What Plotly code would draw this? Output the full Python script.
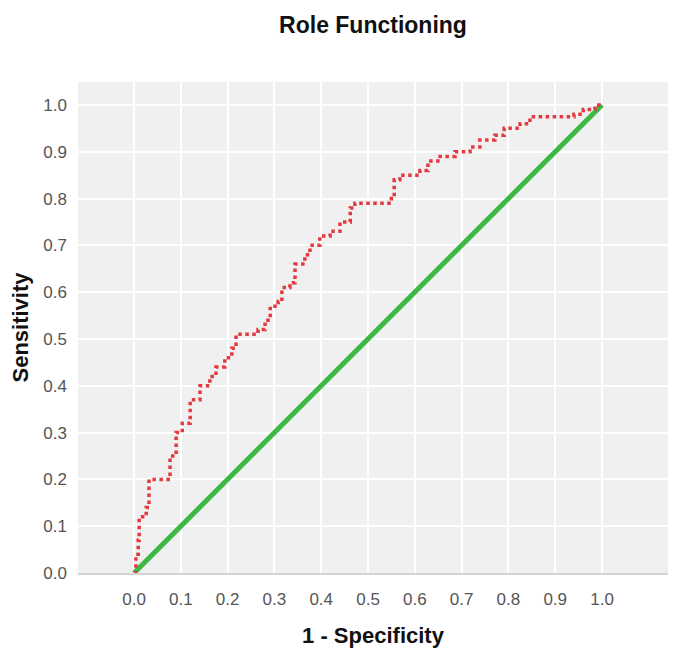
import plotly.graph_objects as go

# ROC curve points (1 - Specificity, Sensitivity)
fpr = [0.000, 0.004, 0.009, 0.011, 0.026, 0.032, 0.077, 0.090, 0.103, 0.120,
       0.141, 0.162, 0.175, 0.194, 0.209, 0.218, 0.265, 0.280, 0.291, 0.308,
       0.316, 0.333, 0.344, 0.365, 0.376, 0.397, 0.419, 0.440, 0.462, 0.472,
       0.550, 0.556, 0.568, 0.611, 0.628, 0.654, 0.686, 0.718, 0.739, 0.771,
       0.791, 0.825, 0.846, 0.940, 0.960, 0.985, 1.000]
tpr = [0.000, 0.040, 0.070, 0.120, 0.140, 0.200, 0.250, 0.300, 0.320, 0.370,
       0.400, 0.420, 0.440, 0.460, 0.480, 0.510, 0.520, 0.540, 0.570, 0.580,
       0.610, 0.620, 0.660, 0.680, 0.700, 0.720, 0.730, 0.750, 0.780, 0.790,
       0.800, 0.840, 0.850, 0.860, 0.880, 0.890, 0.900, 0.910, 0.925, 0.935,
       0.950, 0.960, 0.975, 0.980, 0.990, 1.000, 1.000]

ref_x = [0.0, 1.0]
ref_y = [0.0, 1.0]

tick_vals = [0.0, 0.1, 0.2, 0.3, 0.4, 0.5, 0.6, 0.7, 0.8, 0.9, 1.0]
tick_text = ["0.0", "0.1", "0.2", "0.3", "0.4", "0.5", "0.6", "0.7", "0.8", "0.9", "1.0"]

FONT = "Liberation Sans, Arial, sans-serif"

fig = go.Figure()
fig.add_trace(go.Scatter(
    x=ref_x, y=ref_y, mode="lines",
    line=dict(color="#3cb843", width=5),
    showlegend=False, hoverinfo="skip"))
fig.add_trace(go.Scatter(
    x=fpr, y=tpr, mode="lines", line_shape="hv",
    line=dict(color="#e23a40", width=3.5, dash="dot"),
    showlegend=False))

fig.update_layout(
    width=678, height=652,
    margin=dict(l=78, r=10, t=82, b=79, autoexpand=False),
    paper_bgcolor="white",
    plot_bgcolor="#f0f0f0",
    font=dict(family=FONT, color="#555555", size=17),
    title=dict(text="<b>Role Functioning</b>", x=0.5, xref="paper",
               y=1 - 25 / 652, yanchor="middle",
               font=dict(family=FONT, size=23, color="#111111")),
)
fig.update_xaxes(
    range=[-0.1197, 1.1410], tickvals=tick_vals, ticktext=tick_text,
    showgrid=True, gridcolor="white", gridwidth=1.5, zeroline=False,
    showline=True, linecolor="#d4d4d4", linewidth=2,
    ticks="", ticklabelstandoff=10, automargin=False,
    title=dict(text="<b>1 - Specificity</b>", standoff=19,
               font=dict(family=FONT, size=22, color="#111111")),
)
fig.update_yaxes(
    range=[0.0, 1.049], tickvals=tick_vals, ticktext=tick_text,
    showgrid=True, gridcolor="white", gridwidth=1.5, zeroline=False,
    showline=False, ticks="", ticklabelstandoff=10, automargin=False,
    title=dict(text="<b>Sensitivity</b>", standoff=8,
               font=dict(family=FONT, size=22, color="#111111")),
)

fig.write_html("out.html", config={"displayModeBar": False},
               post_script="document.body.style.margin='0';")
